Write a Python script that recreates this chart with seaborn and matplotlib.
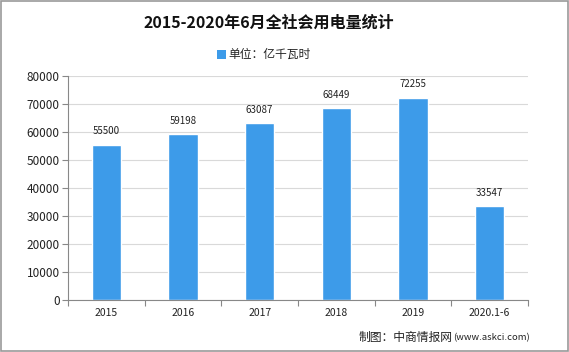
import matplotlib.pyplot as plt
import pandas as pd
import seaborn as sns
from matplotlib.patches import Rectangle

years = ['2015', '2016', '2017', '2018', '2019', '2020.1-6']
consumption = [55500, 59198, 63087, 68449, 72255, 33547]
yticks = [0, 10000, 20000, 30000, 40000, 50000, 60000, 70000, 80000]

df = pd.DataFrame({'年份': years, '单位：亿千瓦时': consumption})

sns.set_style('white')
plt.rcParams['font.family'] = ['Noto Sans CJK SC', 'DejaVu Sans']

fig = plt.figure(figsize=(5.69, 3.52), dpi=100)
ax = fig.add_axes([0.1195, 0.148, 0.8085, 0.636])

bar_color = '#3d9be9'
sns.barplot(data=df, x='年份', y='单位：亿千瓦时', color=bar_color, width=0.38,
            saturation=1, ax=ax)

for container in ax.containers:
    ax.bar_label(container, padding=6, fontsize=7, color='#222222')

ax.set_ylim(0, 80000)
ax.set_yticks(yticks)
ax.set_yticklabels([str(v) for v in yticks], fontsize=8.5, color='#222222')
ax.yaxis.grid(True, color='#d9d9d9', linewidth=0.8)
ax.set_axisbelow(True)

ax.set_xlim(-0.5, len(years) - 0.5)
ax.set_xticks([i - 0.5 for i in range(len(years) + 1)])
ax.set_xticklabels([])
ax.set_xticks(range(len(years)), minor=True)
ax.set_xticklabels(years, minor=True, fontsize=7.5, color='#222222')
ax.tick_params(axis='x', which='major', length=4, direction='out', color='#888888', bottom=True)
ax.tick_params(axis='x', which='minor', length=0, pad=6)
ax.tick_params(axis='y', length=4, direction='out', color='#888888', left=True, pad=2)

ax.set_xlabel('')
ax.set_ylabel('')
for side in ['top', 'right']:
    ax.spines[side].set_visible(False)
for side in ['left', 'bottom']:
    ax.spines[side].set_color('#888888')
    ax.spines[side].set_linewidth(0.8)

fig.text(0.473, 0.937, '2015-2020年6月全社会用电量统计', ha='center', va='center',
         fontsize=11.5, fontweight='bold', color='#111111')

# legend
fig.patches.append(Rectangle((0.382, 0.832), 0.016, 0.026, transform=fig.transFigure,
                             facecolor=bar_color, edgecolor='none'))
fig.text(0.401, 0.846, '单位：亿千瓦时', ha='left', va='center', fontsize=8.5, color='#222222')

fig.text(0.796, 0.04, '制图：中商情报网', ha='right', va='center', fontsize=8.5,
         color='#222222')
fig.text(0.797, 0.04, '(www.askci.com)', ha='left', va='center', fontsize=6.8, color='#222222')

fig.patches.append(Rectangle((0.001, 0.002), 0.997, 0.995, transform=fig.transFigure,
                             facecolor='none', edgecolor='#999999', linewidth=1.2))

plt.savefig('out.png', dpi=100)
